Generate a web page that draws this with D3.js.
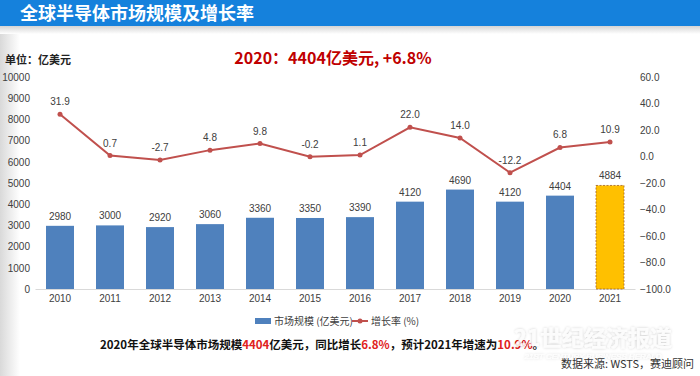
<!DOCTYPE html>
<html>
<head>
<meta charset="utf-8">
<script src="https://cdn.jsdelivr.net/npm/d3@7"></script>
<style>
  body { margin: 0; background: #fff; }
  svg { display: block; font-family: "Liberation Sans", "Noto Sans CJK SC", sans-serif; }
</style>
</head>
<body>
<div id="chart"></div>
<script>
// data
var years = ["2010", "2011", "2012", "2013", "2014", "2015", "2016", "2017", "2018", "2019", "2020", "2021"];
var market = [2980, 3000, 2920, 3060, 3360, 3350, 3390, 4120, 4690, 4120, 4404, 4884];
var growth = [31.9, 0.7, -2.7, 4.8, 9.8, -0.2, 1.1, 22.0, 14.0, -12.2, 6.8, 10.9];
var leftTicks = [0, 1000, 2000, 3000, 4000, 5000, 6000, 7000, 8000, 9000, 10000];
var rightTicks = [-100, -80, -60, -40, -20, 0, 20, 40, 60];

var width = 700, height = 376;
var cjk = "'Noto Sans CJK SC', sans-serif";

var svg = d3.select("#chart").append("svg")
    .attr("width", width)
    .attr("height", height);

var defs = svg.append("defs");
var sideGrad = defs.append("linearGradient").attr("id", "side")
    .attr("x1", 0).attr("x2", 1).attr("y1", 0).attr("y2", 0);
sideGrad.append("stop").attr("offset", 0).attr("stop-color", "#d9d9d9");
sideGrad.append("stop").attr("offset", 1).attr("stop-color", "#fff");
var topGrad = defs.append("linearGradient").attr("id", "strip")
    .attr("x1", 0).attr("x2", 0).attr("y1", 0).attr("y2", 1);
topGrad.append("stop").attr("offset", 0).attr("stop-color", "#d4d4d4");
topGrad.append("stop").attr("offset", 1).attr("stop-color", "#fff");
var glow = defs.append("filter").attr("id", "glow")
    .attr("x", "-10%").attr("y", "-30%").attr("width", "120%").attr("height", "160%");
glow.append("feGaussianBlur").attr("in", "SourceAlpha").attr("stdDeviation", 1.5).attr("result", "b");
glow.append("feComponentTransfer").attr("in", "b").attr("result", "s")
  .append("feFuncA").attr("type", "linear").attr("slope", 0.25);
var merge = glow.append("feMerge");
merge.append("feMergeNode").attr("in", "s");
merge.append("feMergeNode").attr("in", "SourceGraphic");

// background decoration
svg.append("rect").attr("x", 0).attr("y", 26).attr("width", 20).attr("height", height - 26)
    .attr("fill", "url(#side)");
svg.append("rect").attr("x", 0).attr("y", 26).attr("width", width).attr("height", 8)
    .attr("fill", "url(#strip)");

// title bar
svg.append("rect").attr("x", 0).attr("y", 0).attr("width", width).attr("height", 26)
    .attr("fill", "#1581dc");
svg.append("text")
    .attr("x", 20).attr("y", 20)
    .attr("fill", "#fff")
    .style("font-family", cjk)
    .style("font-size", "18px")
    .style("font-weight", "bold")
    .text("全球半导体市场规模及增长率");

// unit and headline
svg.append("text")
    .attr("x", 5).attr("y", 64)
    .attr("fill", "#222")
    .style("font-family", cjk)
    .style("font-size", "11px")
    .style("font-weight", "bold")
    .text("单位：亿美元");

svg.append("text")
    .attr("x", 333).attr("y", 64)
    .attr("text-anchor", "middle")
    .attr("fill", "#c00000")
    .style("font-family", cjk)
    .style("font-size", "16px")
    .style("font-weight", "bold")
    .text("2020：4404亿美元, +6.8%");

// scales
var x = d3.scaleBand()
    .domain(years)
    .range([35, 635])
    .paddingInner(0.44)
    .paddingOuter(0.22);

var yLeft = d3.scaleLinear().domain([0, 10000]).range([289, 77]);
var yRight = d3.scaleLinear().domain([-100, 60]).range([289, 77]);

// axes
var leftAxis = svg.append("g")
    .attr("transform", "translate(33,0)")
    .call(d3.axisLeft(yLeft).tickValues(leftTicks).tickSize(0).tickPadding(3)
      .tickFormat(d3.format("d")));
leftAxis.select(".domain").remove();

var rightAxis = svg.append("g")
    .attr("transform", "translate(637,0)")
    .call(d3.axisRight(yRight).tickValues(rightTicks).tickSize(0).tickPadding(3)
      .tickFormat(d3.format(".1f")));
rightAxis.select(".domain").remove();

var bottomAxis = svg.append("g")
    .attr("transform", "translate(0,289)")
    .call(d3.axisBottom(x).tickSize(0).tickPadding(6));
bottomAxis.select(".domain").attr("stroke", "#d9d9d9");

svg.selectAll(".tick text")
    .attr("fill", "#404040")
    .style("font-size", "10px")
    .style("font-family", "'Liberation Sans', sans-serif");

// bars
svg.selectAll(".bar")
    .data(market)
    .enter()
    .append("rect")
    .attr("class", "bar")
    .attr("x", function (d, i) { return x(years[i]); })
    .attr("y", function (d) { return yLeft(d); })
    .attr("width", x.bandwidth())
    .attr("height", function (d) { return yLeft(0) - yLeft(d); })
    .attr("fill", function (d, i) { return i === years.length - 1 ? "#ffc000" : "#4f81bd"; })
    .attr("stroke", function (d, i) { return i === years.length - 1 ? "#a0622a" : "none"; })
    .attr("stroke-width", 0.8)
    .attr("stroke-dasharray", "2,1.5");

svg.selectAll(".bar-label")
    .data(market)
    .enter()
    .append("text")
    .attr("class", "bar-label")
    .attr("x", function (d, i) { return x(years[i]) + x.bandwidth() / 2; })
    .attr("y", function (d) { return yLeft(d) - 6; })
    .attr("text-anchor", "middle")
    .attr("fill", "#404040")
    .style("font-size", "10px")
    .text(function (d) { return d; });

// growth line
var cx = function (i) { return x(years[i]) + x.bandwidth() / 2; };
var line = d3.line()
    .x(function (d, i) { return cx(i); })
    .y(function (d) { return yRight(d); });

svg.append("path")
    .datum(growth)
    .attr("fill", "none")
    .attr("stroke", "#c0504d")
    .attr("stroke-width", 2)
    .attr("d", line);

svg.selectAll(".dot")
    .data(growth)
    .enter()
    .append("circle")
    .attr("cx", function (d, i) { return cx(i); })
    .attr("cy", function (d) { return yRight(d); })
    .attr("r", 2.5)
    .attr("fill", "#c0504d");

svg.selectAll(".growth-label")
    .data(growth)
    .enter()
    .append("text")
    .attr("x", function (d, i) { return cx(i); })
    .attr("y", function (d) { return yRight(d) - 9; })
    .attr("text-anchor", "middle")
    .attr("fill", "#404040")
    .style("font-size", "10px")
    .text(function (d) { return d.toFixed(1); });

// legend
var legend = svg.append("g").attr("transform", "translate(255,321)");
legend.append("rect").attr("x", 0).attr("y", -3).attr("width", 16).attr("height", 6)
    .attr("fill", "#4f81bd");
legend.append("text").attr("x", 19).attr("y", 4)
    .attr("fill", "#404040")
    .style("font-size", "10px")
    .style("font-family", cjk)
    .text("市场规模 (亿美元)");
legend.append("line").attr("x1", 97).attr("x2", 113).attr("y1", 0).attr("y2", 0)
    .attr("stroke", "#c0504d").attr("stroke-width", 2);
legend.append("circle").attr("cx", 105).attr("cy", 0).attr("r", 2.5).attr("fill", "#c0504d");
legend.append("text").attr("x", 116).attr("y", 4)
    .attr("fill", "#404040")
    .style("font-size", "10px")
    .style("font-family", cjk)
    .text("增长率 (%)");

// bottom summary
var summary = svg.append("text")
    .attr("x", 322).attr("y", 349)
    .attr("text-anchor", "middle")
    .attr("fill", "#111")
    .style("font-family", cjk)
    .style("font-size", "11.5px")
    .style("font-weight", "bold");
[["2020年全球半导体市场规模", "#111"], ["4404", "#e02020"], ["亿美元，同比增长", "#111"],
 ["6.8%", "#e02020"], ["，预计2021年增速为", "#111"], ["10.9%", "#e02020"], ["。", "#111"]]
  .forEach(function (p) {
    summary.append("tspan").attr("fill", p[1]).text(p[0]);
  });

// watermark
svg.append("text")
    .attr("x", 593).attr("y", 346)
    .attr("text-anchor", "middle")
    .attr("fill", "#fff")
    .attr("fill-opacity", 0.8)
    .attr("filter", "url(#glow)")
    .style("font-family", cjk)
    .style("font-size", "22px")
    .style("font-weight", "bold")
    .text("21世纪经济报道");
svg.append("text")
    .attr("x", 593).attr("y", 359)
    .attr("text-anchor", "middle")
    .attr("fill", "#fff")
    .attr("fill-opacity", 0.8)
    .attr("filter", "url(#glow)")
    .style("font-size", "8px")
    .style("font-style", "italic")
    .text("21ST CENTURY BUSINESS HERALD");

// source
svg.append("text")
    .attr("x", 694).attr("y", 368)
    .attr("text-anchor", "end")
    .attr("fill", "#333")
    .style("font-family", cjk)
    .style("font-size", "11px")
    .text("数据来源: WSTS，赛迪顾问");
</script>
</body>
</html>
